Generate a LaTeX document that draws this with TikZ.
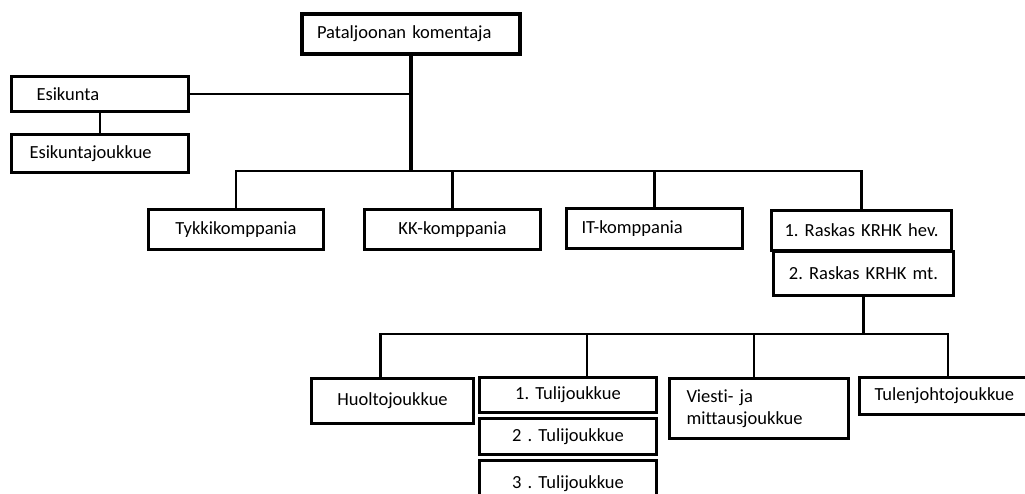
\documentclass[tikz,border=0pt]{standalone}
\usepackage{fontspec}
\setmainfont{Carlito}[Ligatures=NoCommon]
\frenchspacing
\tikzset{
  unit/.style={draw, line width=3pt, anchor=north west, inner sep=0pt,
               font=\fontsize{18.5}{22}\selectfont},
  link/.style={line width=2.2pt}
}

\begin{document}
\begin{tikzpicture}[x=1pt,y=-1pt]
\useasboundingbox (0,0) rectangle (1025,493);
\coordinate (bus) at (0,171);
\coordinate (alabus) at (0,334);
\node [unit, line width=4pt, minimum width=218pt, minimum height=40pt, text width=188pt, inner xsep=15pt, align=left] (komentaja) at (300,12) {Pataljoonan komentaja};
\node [unit, minimum width=177pt, minimum height=35pt, text width=127pt, inner xsep=25pt, align=left] (esikunta) at (10,75) {Esikunta};
\node [unit, minimum width=177pt, minimum height=38pt, text width=141pt, inner xsep=18pt, align=left] (esikuntaj) at (10,133) {Esikuntajoukkue};
\node [unit, minimum width=175pt, minimum height=40pt, text width=175pt, align=center] (tykki) at (147,208) {Tykkikomppania};
\node [unit, minimum width=176pt, minimum height=40pt, text width=176pt, align=center] (kk) at (363,208) {KK-komppania};
\node [unit, minimum width=176pt, minimum height=40pt, text width=146pt, inner xsep=15pt, align=left] (it) at (565,207) {IT-komppania};
\node [unit, minimum width=180pt, minimum height=40pt, text width=180pt, align=center] (raskas1) at (770,209) {1. Raskas KRHK hev.};
\node [unit, minimum width=180pt, minimum height=44pt, text width=180pt, align=center] (raskas2) at (772,250) {2. Raskas KRHK mt.};
\node [unit, minimum width=162pt, minimum height=45pt, text width=162pt, align=center] (huolto) at (310,377) {Huoltojoukkue};
\node [unit, minimum width=177pt, minimum height=35pt, text width=177pt, align=center] (tuli1) at (478,376) {1. Tulijoukkue};
\node [unit, minimum width=177pt, minimum height=36pt, text width=177pt, align=center] (tuli2) at (478,417) {2 . Tulijoukkue};
\node [unit, minimum width=177pt, minimum height=46pt, text width=177pt, align=center] (tuli3) at (478,459) {3 . Tulijoukkue};
\node [unit, minimum width=179pt, minimum height=60pt, text width=145pt, inner xsep=17pt, align=left] (viesti) at (668,377) {Viesti- ja\\mittausjoukkue};
\node [unit, minimum width=177pt, minimum height=37pt, text width=147pt, inner xsep=15pt, align=left] (tulenjohto) at (858,376) {Tulenjohtojoukkue};
% ylempi taso
\draw [line width=4pt] (komentaja.south) -- (komentaja.south |- bus);
\draw [link] (esikunta.east) -- (esikunta.east -| komentaja.south);
\draw [link] (esikunta.south) -- (esikuntaj.north);
\draw [link] (tykki.north) |- (raskas1.north |- bus) -- (raskas1.north);
\draw [link] (kk.north) -- (kk.north |- bus);
\draw [link] (it.north) -- (it.north |- bus);
% alempi taso
\draw [link] (raskas2.south) -- (raskas2.south |- alabus);
\draw [link] ([xshift=-12pt]huolto.north) |- (tulenjohto.north |- alabus) -- (tulenjohto.north);
\draw [link] ([xshift=19pt]tuli1.north) -- ([xshift=19pt]tuli1.north |- alabus);
\draw [link] ([xshift=-5pt]viesti.north) -- ([xshift=-5pt]viesti.north |- alabus);
\end{tikzpicture}
\end{document}
